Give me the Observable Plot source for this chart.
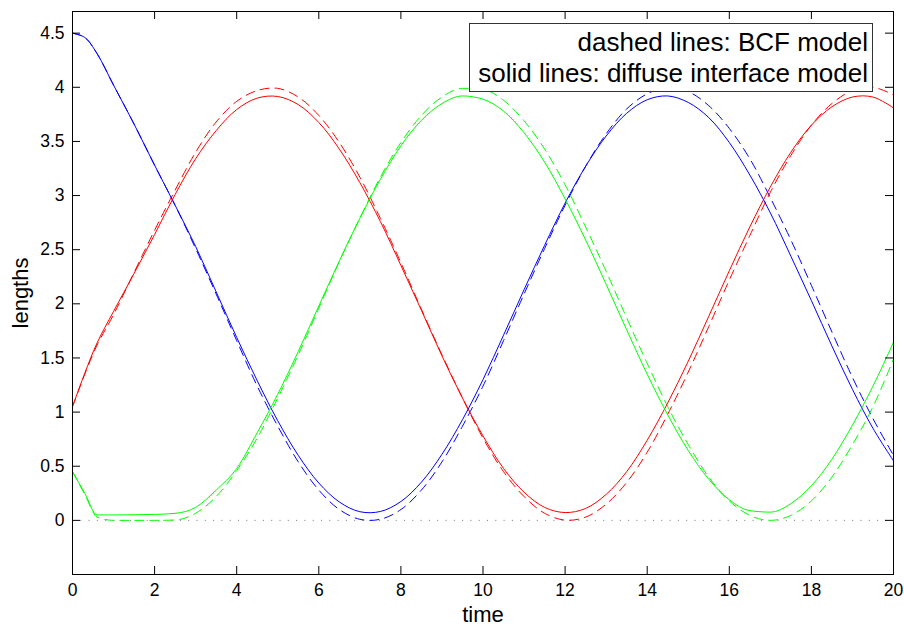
<!DOCTYPE html>
<html>
<head>
<meta charset="utf-8">
<script src="https://cdn.jsdelivr.net/npm/d3@7"></script>
<script src="https://cdn.jsdelivr.net/npm/@observablehq/plot@0.6"></script>
<style>
  html, body { margin: 0; padding: 0; background: #fff; }
  #wrap { position: relative; width: 904px; height: 626px; font-family: "Liberation Sans", Arial, sans-serif; }
  #legend {
    position: absolute; left: 469px; top: 23px; width: 398px; height: 64px;
    border: 1px solid #333; background: #fff; text-align: right;
    font-size: 26px; line-height: 31px; padding: 3px 4px 0 0; box-sizing: content-box;
    color: #000; white-space: nowrap;
  }
</style>
</head>
<body>
<div id="wrap"><div id="legend"></div></div>
<script>
// time samples
const time = [0, 0.3, 0.6, 1, 1.5, 2, 2.5, 3, 3.5, 4, 4.5, 5, 5.5, 6, 6.5, 7, 7.5, 8, 8.5, 9, 9.5, 10,
  10.5, 11, 11.5, 12, 12.5, 13, 13.5, 14, 14.5, 15, 15.5, 16, 16.5, 17, 17.5, 18, 18.5, 19, 19.5, 20];

// diffuse interface model (solid)
const blueSolid = [4.50, 4.46, 4.31, 4.02, 3.66, 3.28, 2.91, 2.53, 2.11, 1.69, 1.29, 0.92, 0.60, 0.345, 0.17, 0.08, 0.082,
  0.174, 0.353, 0.61, 0.93, 1.30, 1.71, 2.13, 2.54, 2.93, 3.27, 3.55, 3.76, 3.885, 3.92, 3.86, 3.72, 3.49, 3.19, 2.84,
  2.44, 2.03, 1.61, 1.21, 0.85, 0.55];
const redSolid = [1.05, 1.36, 1.64, 1.93, 2.28, 2.64, 3.01, 3.34, 3.60, 3.795, 3.90, 3.915, 3.84, 3.675, 3.43, 3.12, 2.76,
  2.355, 1.94, 1.52, 1.13, 0.78, 0.48, 0.26, 0.12, 0.072, 0.11, 0.24, 0.45, 0.74, 1.085, 1.47, 1.885, 2.305, 2.71, 3.08,
  3.40, 3.65, 3.82, 3.91, 3.91, 3.81];
const greenSolid = [0.45, 0.25, 0.05, 0.05, 0.052, 0.055, 0.065, 0.12, 0.28, 0.48, 0.81, 1.165, 1.56, 1.98, 2.395, 2.79, 3.15,
  3.46, 3.695, 3.85, 3.92, 3.89, 3.78, 3.58, 3.31, 2.97, 2.59, 2.18, 1.76, 1.35, 0.975, 0.645, 0.38, 0.19, 0.09, 0.076,
  0.155, 0.32, 0.565, 0.88, 1.24, 1.645];

// BCF model (dashed)
const blueDashed = [4.50, 4.46, 4.31, 4.02, 3.66, 3.28, 2.91, 2.51, 2.09, 1.66, 1.24, 0.87, 0.54, 0.28, 0.10, 0.01, 0.01,
  0.10, 0.28, 0.54, 0.87, 1.24, 1.66, 2.09, 2.51, 2.91, 3.27, 3.57, 3.80, 3.94, 4.00, 3.96, 3.83, 3.62, 3.34, 2.98,
  2.59, 2.17, 1.74, 1.32, 0.94, 0.60];
const redDashed = [1.05, 1.35, 1.62, 1.90, 2.29, 2.68, 3.05, 3.40, 3.68, 3.87, 3.97, 3.99, 3.91, 3.74, 3.49, 3.17, 2.79,
  2.38, 1.95, 1.53, 1.13, 0.76, 0.45, 0.22, 0.066, 0.002, 0.03, 0.15, 0.35, 0.63, 0.98, 1.37, 1.79, 2.22, 2.63, 3.03,
  3.37, 3.65, 3.85, 3.97, 4.00, 3.93];
const greenDashed = [0.45, 0.24, 0.03, 0, 0, 0, 0.003, 0.066, 0.22, 0.46, 0.76, 1.13, 1.53, 1.96, 2.39, 2.79, 3.17,
  3.49, 3.74, 3.91, 3.99, 3.98, 3.88, 3.69, 3.43, 3.10, 2.71, 2.30, 1.87, 1.45, 1.05, 0.70, 0.40, 0.18, 0.046, 0,
  0.046, 0.18, 0.40, 0.70, 1.05, 1.49];

const xTicks = [0, 2, 4, 6, 8, 10, 12, 14, 16, 18, 20];
const yTicks = [0, 0.5, 1, 1.5, 2, 2.5, 3, 3.5, 4, 4.5];
const legendLines = ["dashed lines: BCF model", "solid lines: diffuse interface model"];
const xLabel = "time";
const yLabel = "lengths";

const W = 904, H = 626;
const mL = 72, mR = 11, mT = 11, mB = 52;
const frameH = H - mT - mB, frameW = W - mL - mR;
const tickLen = 8;

const line = (ys, color, dash, curve) => Plot.lineY(ys, {
  x: time, stroke: color, strokeWidth: 1, strokeDasharray: dash, curve
});

const chart = Plot.plot({
  width: W, height: H,
  marginLeft: mL, marginRight: mR, marginTop: mT, marginBottom: mB,
  x: {domain: [0, 20], label: null},
  y: {domain: [-0.5, 4.7], label: null},
  style: {fontFamily: "'Liberation Sans', Arial, sans-serif", fontSize: "17px", color: "#000", background: "#fff"},
  marks: [
    Plot.ruleY([0], {stroke: "#777", strokeDasharray: "1,7.3", strokeWidth: 1}),
    line(blueDashed, "#0000ff", "9,6", "catmull-rom"),
    line(redDashed, "#ff0000", "9,6", "catmull-rom"),
    line(greenDashed, "#00ff00", "9,6", "monotone-x"),
    line(blueSolid, "#0000ff", null, "catmull-rom"),
    line(redSolid, "#ff0000", null, "catmull-rom"),
    line(greenSolid, "#00ff00", null, "monotone-x"),
    Plot.ruleX(xTicks, {x: d => d, insetTop: frameH - tickLen, stroke: "#000"}),
    Plot.ruleX(xTicks, {x: d => d, insetBottom: frameH - tickLen, stroke: "#000"}),
    Plot.ruleY(yTicks, {y: d => d, insetRight: frameW - tickLen, stroke: "#000"}),
    Plot.ruleY(yTicks, {y: d => d, insetLeft: frameW - tickLen, stroke: "#000"}),
    Plot.frame({stroke: "#000", strokeWidth: 1}),
    Plot.axisX(xTicks, {tickSize: 0, tickPadding: 9, fontSize: 17.5, label: null}),
    Plot.axisY(yTicks, {tickSize: 0, tickPadding: 8, fontSize: 17.5, label: null, tickFormat: d => String(d)}),
    Plot.text([xLabel], {text: d => d, frameAnchor: "bottom", dy: 40, fontSize: 22, lineAnchor: "middle", textAnchor: "middle"}),
    Plot.text([yLabel], {text: d => d, frameAnchor: "left", dx: -52, rotate: -90, fontSize: 22, lineAnchor: "middle", textAnchor: "middle"})
  ]
});
const wrap = document.getElementById("wrap");
wrap.insertBefore(chart, wrap.firstChild);
document.getElementById("legend").innerHTML = legendLines.join("<br>");
</script>
</body>
</html>
